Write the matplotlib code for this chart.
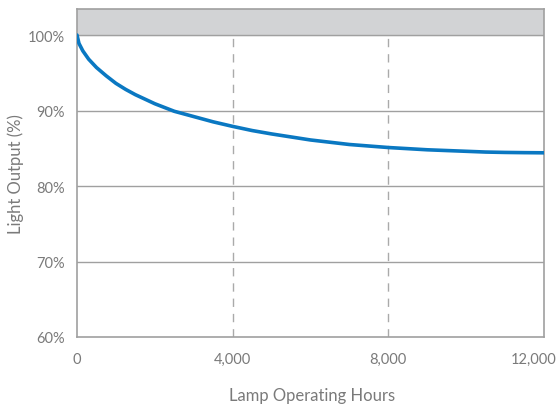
import matplotlib.pyplot as plt
import matplotlib.transforms as mtransforms

hours = [0, 50, 150, 300, 500, 750, 1000, 1250, 1500, 2000, 2500, 3000, 3500, 4000,
         4500, 5000, 5500, 6000, 6500, 7000, 7500, 8000, 8500, 9000, 9500, 10000,
         10500, 11000, 11500, 12000]
output = [100, 98.9, 97.9, 96.8, 95.7, 94.6, 93.6, 92.8, 92.1, 90.9, 89.9, 89.2, 88.5, 87.9,
          87.35, 86.9, 86.5, 86.1, 85.8, 85.5, 85.3, 85.1, 84.95, 84.8, 84.7, 84.6,
          84.5, 84.45, 84.42, 84.4]

yticks = [60, 70, 80, 90, 100]
ytick_labels = ['60%', '70%', '80%', '90%', '100%']
xticks = [0, 4000, 8000, 12000]
xtick_labels = ['0', '4,000', '8,000', '12,000']

plt.rcParams['font.family'] = ['Lato', 'DejaVu Sans']
txt = '#7a7a7a'
edge = '#a0a0a0'
ytop = 103.45

fig = plt.figure(figsize=(5.57, 4.06), dpi=100)
ax = fig.add_axes([77 / 557, 1 - 338 / 406, (544 - 77) / 557, (338 - 10) / 406])

ax.set_xlim(0, 12000)
ax.set_ylim(60, ytop)
ax.axhspan(100, ytop, color='#d2d3d5', zorder=0)
for y in yticks[1:]:
    ax.axhline(y, color=edge, lw=1, zorder=1)
for x in xticks[1:3]:
    ax.axvline(x, ymax=(100 - 60) / (ytop - 60), color='#aaaaaa', lw=1, dashes=(6, 5), zorder=1)

ax.plot(hours, output, color='#0a78c2', lw=2.6, zorder=3, solid_capstyle='round')

for s in ax.spines.values():
    s.set_color(edge)
    s.set_linewidth(1.2)

ax.set_xticks(xticks)
ax.set_xticklabels(xtick_labels)
ax.set_yticks(yticks)
ax.set_yticklabels(ytick_labels)
ax.tick_params(length=0, colors=txt, labelsize=10.5)
ax.tick_params(axis='x', pad=11)
ax.tick_params(axis='y', pad=9)

# last x label sits a little inside the right edge
last = ax.get_xticklabels()[-1]
last.set_transform(last.get_transform() + mtransforms.ScaledTranslation(-10 / 100, 0, fig.dpi_scale_trans))

ax.set_xlabel('Lamp Operating Hours', color=txt, fontsize=12, va='center')
ax.set_ylabel('Light Output (%)', color=txt, fontsize=12, va='center')
ax.xaxis.set_label_coords(0.503, -0.177)
ax.yaxis.set_label_coords(-0.131, 0.5)

fig.savefig('out.png', dpi=100)
